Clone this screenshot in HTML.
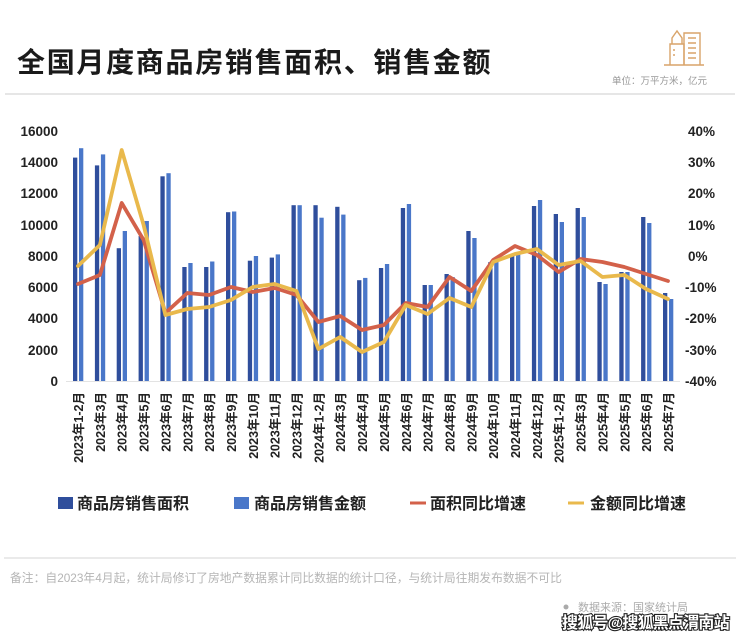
<!DOCTYPE html>
<html><head><meta charset="utf-8"><style>
html,body{margin:0;padding:0;background:#fff;}
body{width:740px;height:637px;overflow:hidden;font-family:"Liberation Sans","Noto Sans CJK SC",sans-serif;}
svg text{font-family:"Liberation Sans","Noto Sans CJK SC",sans-serif;}
</style></head><body>
<svg width="740" height="637" viewBox="0 0 740 637" xmlns="http://www.w3.org/2000/svg">
<rect width="740" height="637" fill="#fff"/>
<text x="17" y="72" font-size="28" font-weight="bold" fill="#1a1a1a" letter-spacing="1.7">全国月度商品房销售面积、销售金额</text>
<g fill="none" stroke="#d9a46a" stroke-width="1.4">
<path d="M670 65 V44 H684 V65 M672 44 V38 L677 31 L682 38 V44"/>
<path d="M684 65 V33 H700 V65 M664 65 H704"/>
<path d="M673 50 h2 M673 55 h2 M688 38 h8 M688 43 h8 M688 48 h8 M688 53 h8 M688 58 h8"/>
</g>
<text x="707" y="84" font-size="9.5" fill="#999" text-anchor="end">单位：万平方米，亿元</text>
<line x1="5" y1="94" x2="735" y2="94" stroke="#ddd" stroke-width="1.5"/>

<g font-size="13.5" font-weight="bold" fill="#222" text-anchor="end">
<text x="58" y="136">16000</text><text x="58" y="167">14000</text><text x="58" y="198">12000</text><text x="58" y="230">10000</text><text x="58" y="261">8000</text><text x="58" y="292">6000</text><text x="58" y="323">4000</text><text x="58" y="355">2000</text><text x="58" y="386">0</text>
</g>
<g font-size="13.5" font-weight="bold" fill="#222">
<text x="688" y="136">40%</text><text x="688" y="167">30%</text><text x="688" y="198">20%</text><text x="688" y="230">10%</text><text x="688" y="261">0%</text><text x="685" y="292">-10%</text><text x="685" y="323">-20%</text><text x="685" y="355">-30%</text><text x="685" y="386">-40%</text>
</g>
<line x1="66" y1="381.5" x2="680" y2="381.5" stroke="#e3e3e3" stroke-width="1"/>

<g fill="#2f4e9c">
<rect x="73" y="157.6" width="4.3" height="223.4"/>
<rect x="94.9" y="165.4" width="4.3" height="215.6"/>
<rect x="116.7" y="248.2" width="4.3" height="132.8"/>
<rect x="138.6" y="236" width="4.3" height="145"/>
<rect x="160.4" y="176.3" width="4.3" height="204.7"/>
<rect x="182.3" y="267" width="4.3" height="114"/>
<rect x="204.1" y="267" width="4.3" height="114"/>
<rect x="226" y="212.2" width="4.3" height="168.8"/>
<rect x="247.8" y="260.7" width="4.3" height="120.3"/>
<rect x="269.7" y="257.6" width="4.3" height="123.4"/>
<rect x="291.5" y="205.2" width="4.3" height="175.8"/>
<rect x="313.4" y="205.2" width="4.3" height="175.8"/>
<rect x="335.2" y="206.8" width="4.3" height="174.2"/>
<rect x="357.1" y="280.2" width="4.3" height="100.8"/>
<rect x="378.9" y="268" width="4.3" height="113"/>
<rect x="400.8" y="208" width="4.3" height="173"/>
<rect x="422.6" y="285" width="4.3" height="96"/>
<rect x="444.5" y="274" width="4.3" height="107"/>
<rect x="466.3" y="231" width="4.3" height="150"/>
<rect x="488.2" y="262.2" width="4.3" height="118.8"/>
<rect x="510" y="254.4" width="4.3" height="126.6"/>
<rect x="531.9" y="206" width="4.3" height="175"/>
<rect x="553.7" y="214" width="4.3" height="167"/>
<rect x="575.6" y="208" width="4.3" height="173"/>
<rect x="597.4" y="282" width="4.3" height="99"/>
<rect x="619.3" y="272" width="4.3" height="109"/>
<rect x="641.1" y="217" width="4.3" height="164"/>
<rect x="663" y="293" width="4.3" height="88"/>
</g>
<g fill="#4a77c9">
<rect x="79" y="148.2" width="4.3" height="232.8"/>
<rect x="100.9" y="154.4" width="4.3" height="226.6"/>
<rect x="122.7" y="231" width="4.3" height="150"/>
<rect x="144.6" y="221" width="4.3" height="160"/>
<rect x="166.4" y="173.2" width="4.3" height="207.8"/>
<rect x="188.3" y="263" width="4.3" height="118"/>
<rect x="210.1" y="261.5" width="4.3" height="119.5"/>
<rect x="232" y="211.5" width="4.3" height="169.5"/>
<rect x="253.8" y="256" width="4.3" height="125"/>
<rect x="275.7" y="254.4" width="4.3" height="126.6"/>
<rect x="297.5" y="205.2" width="4.3" height="175.8"/>
<rect x="319.4" y="217.7" width="4.3" height="163.3"/>
<rect x="341.2" y="214.6" width="4.3" height="166.4"/>
<rect x="363.1" y="277.9" width="4.3" height="103.1"/>
<rect x="384.9" y="264" width="4.3" height="117"/>
<rect x="406.8" y="204" width="4.3" height="177"/>
<rect x="428.6" y="285" width="4.3" height="96"/>
<rect x="450.5" y="277.1" width="4.3" height="103.9"/>
<rect x="472.3" y="238" width="4.3" height="143"/>
<rect x="494.2" y="260" width="4.3" height="121"/>
<rect x="516" y="252.1" width="4.3" height="128.9"/>
<rect x="537.9" y="200" width="4.3" height="181"/>
<rect x="559.7" y="222" width="4.3" height="159"/>
<rect x="581.6" y="217" width="4.3" height="164"/>
<rect x="603.4" y="284" width="4.3" height="97"/>
<rect x="625.3" y="272" width="4.3" height="109"/>
<rect x="647.1" y="223" width="4.3" height="158"/>
<rect x="669" y="299" width="4.3" height="82"/>
</g>

<polyline fill="none" stroke="#d3614a" stroke-width="3.8" stroke-linejoin="round" stroke-linecap="round"
points="78,284 99.9,275 121.7,203 143.6,240 165.4,313 187.3,293 209.1,295 231,287 252.8,292 274.7,288 296.5,295 318.4,322 340.2,316 362.1,330 383.9,325 405.8,303 427.6,307 449.5,277 471.3,291 493.2,260 515,246 536.9,255 558.7,272 580.6,259 602.4,262 624.3,267 646.1,274 668,281"/>
<polyline fill="none" stroke="#e9b94c" stroke-width="3.8" stroke-linejoin="round" stroke-linecap="round"
points="78,266 99.9,245 121.7,150 143.6,225 165.4,315 187.3,309 209.1,307 231,300 252.8,287 274.7,284 296.5,291 318.4,349 340.2,337 362.1,352 383.9,342 405.8,305 427.6,314 449.5,298 471.3,307 493.2,262 515,254 536.9,249 558.7,265 580.6,261 602.4,277 624.3,275 646.1,289 668,299"/>

<g font-size="12.5" font-weight="bold" fill="#222" text-anchor="end">
<text transform="translate(83,392) rotate(-90)">2023年1-2月</text>
<text transform="translate(104.9,392) rotate(-90)">2023年3月</text>
<text transform="translate(126.7,392) rotate(-90)">2023年4月</text>
<text transform="translate(148.6,392) rotate(-90)">2023年5月</text>
<text transform="translate(170.4,392) rotate(-90)">2023年6月</text>
<text transform="translate(192.3,392) rotate(-90)">2023年7月</text>
<text transform="translate(214.1,392) rotate(-90)">2023年8月</text>
<text transform="translate(236,392) rotate(-90)">2023年9月</text>
<text transform="translate(257.8,392) rotate(-90)">2023年10月</text>
<text transform="translate(279.7,392) rotate(-90)">2023年11月</text>
<text transform="translate(301.5,392) rotate(-90)">2023年12月</text>
<text transform="translate(323.4,392) rotate(-90)">2024年1-2月</text>
<text transform="translate(345.2,392) rotate(-90)">2024年3月</text>
<text transform="translate(367.1,392) rotate(-90)">2024年4月</text>
<text transform="translate(388.9,392) rotate(-90)">2024年5月</text>
<text transform="translate(410.8,392) rotate(-90)">2024年6月</text>
<text transform="translate(432.6,392) rotate(-90)">2024年7月</text>
<text transform="translate(454.5,392) rotate(-90)">2024年8月</text>
<text transform="translate(476.3,392) rotate(-90)">2024年9月</text>
<text transform="translate(498.2,392) rotate(-90)">2024年10月</text>
<text transform="translate(520,392) rotate(-90)">2024年11月</text>
<text transform="translate(541.9,392) rotate(-90)">2024年12月</text>
<text transform="translate(563.7,392) rotate(-90)">2025年1-2月</text>
<text transform="translate(585.6,392) rotate(-90)">2025年3月</text>
<text transform="translate(607.4,392) rotate(-90)">2025年4月</text>
<text transform="translate(629.3,392) rotate(-90)">2025年5月</text>
<text transform="translate(651.1,392) rotate(-90)">2025年6月</text>
<text transform="translate(673,392) rotate(-90)">2025年7月</text>
</g>

<rect x="58" y="497" width="15" height="12" fill="#2f4e9c"/>
<rect x="234" y="497" width="15" height="12" fill="#4a77c9"/>
<line x1="410" y1="503" x2="426" y2="503" stroke="#d3614a" stroke-width="3"/>
<line x1="568" y1="503" x2="584" y2="503" stroke="#e9b94c" stroke-width="3"/>
<g font-size="16" font-weight="bold" fill="#222">
<text x="77" y="509">商品房销售面积</text>
<text x="254" y="509">商品房销售金额</text>
<text x="430" y="509">面积同比增速</text>
<text x="590" y="509">金额同比增速</text>
</g>

<line x1="4" y1="558" x2="736" y2="558" stroke="#ddd" stroke-width="1.2"/>
<text x="10" y="582" font-size="11.8" fill="#b5b5b5">备注：自2023年4月起，统计局修订了房地产数据累计同比数据的统计口径，与统计局往期发布数据不可比</text>
<circle cx="566" cy="607" r="2.5" fill="#aaa"/>
<text x="578" y="611" font-size="11" fill="#aaa">数据来源：国家统计局</text>
<text x="562" y="628" font-size="16" font-weight="bold" fill="#fff" stroke="#222" stroke-width="2.2" paint-order="stroke" letter-spacing="-0.8">搜狐号@搜狐黑点渭南站</text>
</svg>
</body></html>
